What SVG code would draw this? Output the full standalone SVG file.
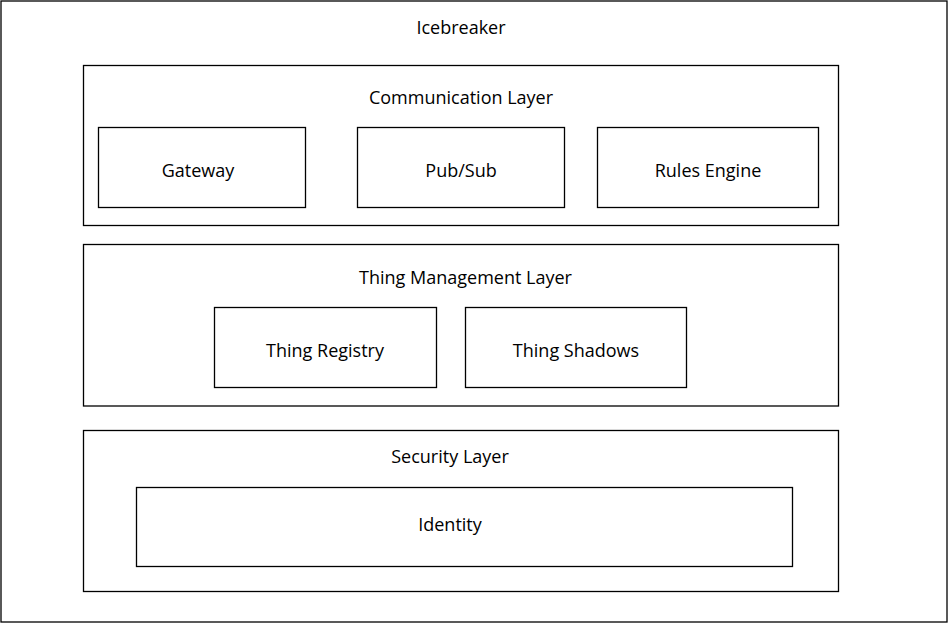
<svg xmlns="http://www.w3.org/2000/svg" width="948" height="624" viewBox="0 0 948 624">
<style>
rect{fill:#fff;stroke:#000;stroke-width:1.3}
text{font-family:"Open Sans","Noto Sans",sans-serif;font-size:18px;fill:#000;text-anchor:middle}
</style>
<rect x="0" y="0" width="948" height="624" style="stroke:none"/>
<g id="icebreaker"><rect x="1" y="1" width="946" height="621"/><text x="461" y="34">Icebreaker</text></g>
<g id="communication-layer"><rect x="83.5" y="65.5" width="755" height="160"/><text x="461" y="104">Communication Layer</text></g>
<g id="gateway"><rect x="98.5" y="127.5" width="207" height="80"/><text x="198" y="177">Gateway</text></g>
<g id="pubsub"><rect x="357.5" y="127.5" width="207" height="80"/><text x="461" y="177">Pub/Sub</text></g>
<g id="rules-engine"><rect x="597.5" y="127.5" width="221" height="80"/><text x="708" y="177">Rules Engine</text></g>
<g id="thing-management-layer"><rect x="83.5" y="244.5" width="755" height="161.5"/><text x="465.5" y="284">Thing Management Layer</text></g>
<g id="thing-registry"><rect x="214.5" y="307.5" width="222" height="80"/><text x="325" y="357">Thing Registry</text></g>
<g id="thing-shadows"><rect x="465.5" y="307.5" width="221" height="80"/><text x="576" y="357">Thing Shadows</text></g>
<g id="security-layer"><rect x="83.5" y="430.5" width="755" height="161"/><text x="450" y="463">Security Layer</text></g>
<g id="identity"><rect x="136.5" y="487.5" width="656" height="79"/><text x="450" y="531">Identity</text></g>
<g id="connectors"/>
</svg>
